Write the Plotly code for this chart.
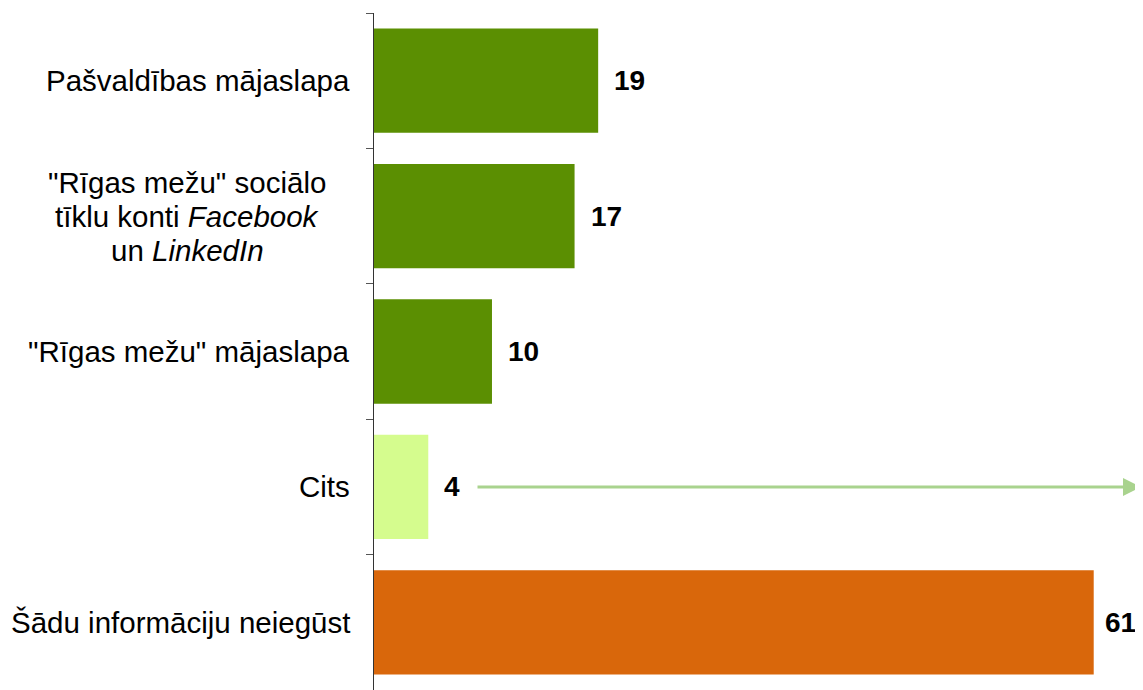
import plotly.graph_objects as go

categories = [
    "Pašvaldības mājaslapa",
    "\"Rīgas mežu\" sociālo<br>tīklu konti <i>Facebook</i><br>un <i>LinkedIn</i>",
    "\"Rīgas mežu\" mājaslapa",
    "Cits",
    "Šādu informāciju neiegūst",
]
values = [19, 17, 10, 4.6, 61]
value_labels = ["19", "17", "10", "4", "61"]
colors = ["#5b8f02", "#5b8f02", "#5b8f02", "#d5fc8e", "#d9670b"]

FONT = "Liberation Sans, Arial, sans-serif"
LINE_H = 34

fig = go.Figure(
    go.Bar(
        y=categories,
        x=values,
        orientation="h",
        marker=dict(color=colors, line=dict(width=0)),
        hoverinfo="skip",
    )
)

annotations = []
for cat in categories:
    lines = cat.split("<br>")
    n = len(lines)
    if n == 1:
        annotations.append(dict(
            x=0, xref="paper", y=cat, yref="y",
            text=cat, showarrow=False, xanchor="right", yanchor="middle",
            xshift=-22,
            font=dict(family=FONT, size=29.5, color="#000000"),
        ))
    else:
        for i, line in enumerate(lines):
            annotations.append(dict(
                x=0, xref="paper", y=cat, yref="y",
                text=line, showarrow=False, xanchor="center", yanchor="middle",
                xshift=-187,
                yshift=((n - 1) / 2 - i) * LINE_H,
                font=dict(family=FONT, size=29.5, color="#000000"),
            ))

for idx, (cat, v, lab) in enumerate(zip(categories, values, value_labels)):
    annotations.append(dict(
        x=v, xref="x", y=cat, yref="y",
        text="<b>" + lab + "</b>", showarrow=False, xanchor="left", yanchor="middle",
        xshift=14 if v < 50 else 9,
        font=dict(family=FONT, size=28, color="#000000"),
    ))
# arrow from "Cits" label towards the right edge
annotations.append(dict(
    x=1.0079, xref="paper", y=categories[3], yref="y",
    ax=-665, ay=0, axref="pixel", ayref="pixel",
    text="", showarrow=True, arrowhead=2, arrowsize=1.2, arrowwidth=3,
    arrowcolor="#a9d38e",
))

fig.update_layout(
    width=1135, height=682,
    margin=dict(l=366, r=8, t=5, b=0),
    paper_bgcolor="white", plot_bgcolor="white",
    bargap=0.23,
    showlegend=False,
    annotations=annotations,
    xaxis=dict(range=[0, 64.5], visible=False, fixedrange=True),
    yaxis=dict(
        type="category", autorange="reversed",
        showticklabels=False, ticks="outside", ticklen=7, tickwidth=1,
        tickcolor="#555555", tickson="boundaries",
        showline=True, linecolor="#333333", linewidth=1,
        showgrid=False, zeroline=False, fixedrange=True,
    ),
)

fig.write_html("out.html")
